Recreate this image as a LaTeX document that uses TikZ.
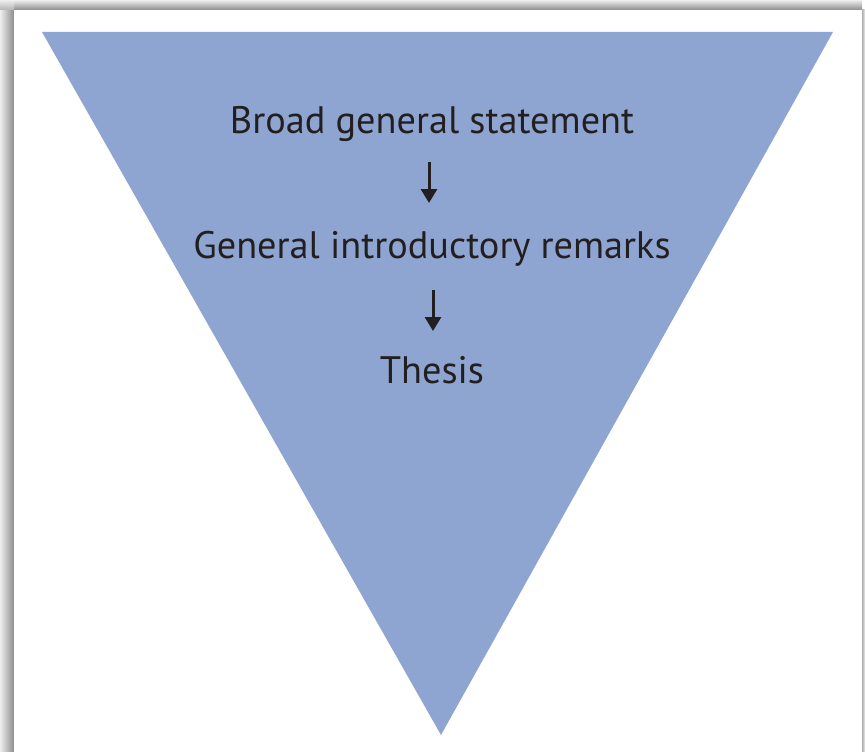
\documentclass[tikz,border=0pt]{standalone}
\usepackage{fontspec}
\setmainfont{PT Sans}
\usetikzlibrary{arrows.meta}
\definecolor{tri}{HTML}{8FA5D1}
\definecolor{ink}{HTML}{231F20}
\definecolor{shlight}{HTML}{EEEEEE}
\definecolor{shdark}{HTML}{8C8C8C}
\tikzset{
  lbl/.style={anchor=base, inner sep=0pt, text=ink, font=\fontsize{38.3}{40}\selectfont},
  arr/.style={draw=ink, line width=3pt, -{Triangle[width=16pt,length=14pt]}}
}
\begin{document}
\begin{tikzpicture}[x=1pt,y=-1pt]
\useasboundingbox (0,0) rectangle (865,752);
\fill[white] (0,0) rectangle (865,752);
% shadows
\shade[left color=shlight, right color=shdark] (0,10) rectangle (14,752);
\shade[top color=shlight, bottom color=shdark] (14,0) rectangle (862,10);
\shade[top color=shlight, bottom color=shdark!60!shlight] (0,0) rectangle (14,10);
\shade[left color=shdark!70!white, right color=shlight] (862,10) rectangle (865,752);
\fill[white] (14,10) rectangle (862,752);
% triangle
\fill[tri] (42,32) -- (833,32) -- (441,735) -- cycle;
% texts
\node[lbl] (t1) at (432,133) {Broad general statement};
\node[lbl] (t2) at (432,258) {General introductory remarks};
\node[lbl] (t3) at (432,383) {Thesis};
% arrows
\coordinate (a1) at (429,162);
\coordinate (a2) at (429,203);
\coordinate (b1) at (433,290);
\coordinate (b2) at (433,331);
\draw[arr] (a1) -- (a2);
\draw[arr] (b1) -- (b2);
\end{tikzpicture}
\end{document}
